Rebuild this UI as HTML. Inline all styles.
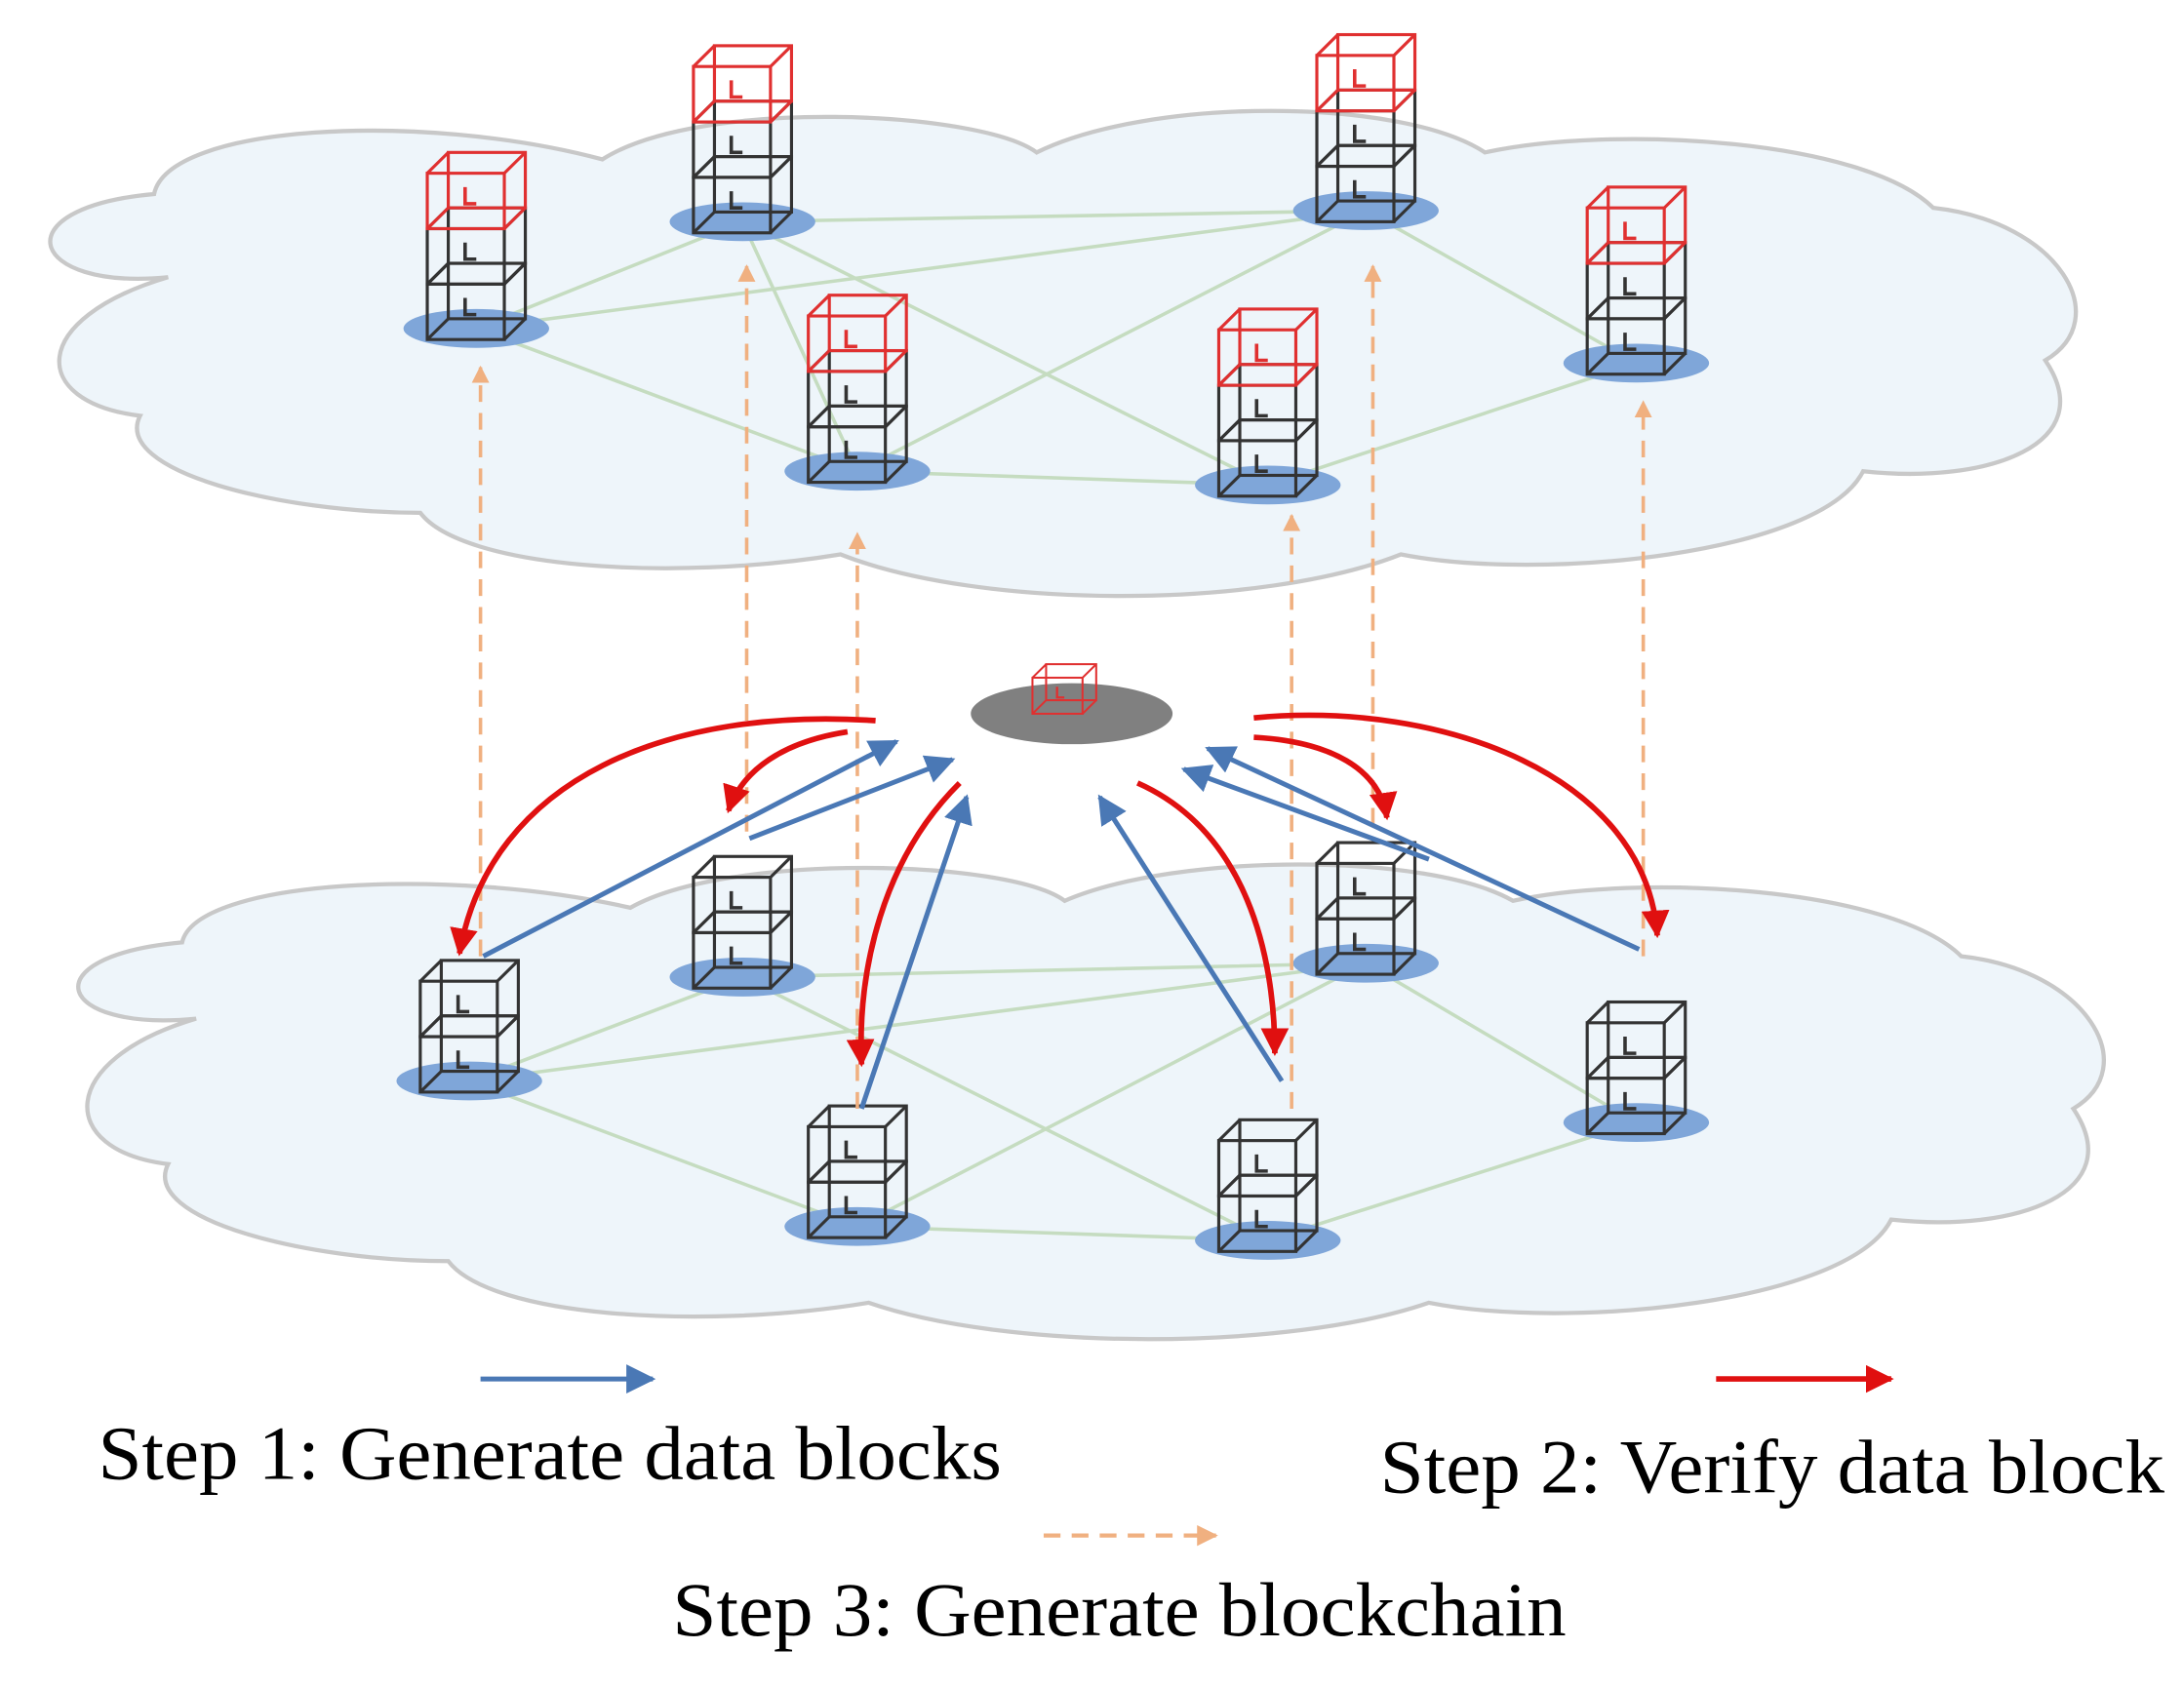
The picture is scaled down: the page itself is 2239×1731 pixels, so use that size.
<!DOCTYPE html>
<html><head><meta charset="utf-8"><style>html,body{margin:0;padding:0;background:#fff}svg{display:block}</style></head>
<body>
<svg width="2239" height="1731" viewBox="0 0 1559 1218" preserveAspectRatio="none" xmlns="http://www.w3.org/2000/svg">
<defs>
<g id="cb" fill="none" stroke="#333" stroke-width="2.2">
<rect x="0" y="-40" width="55" height="40"/><rect x="15" y="-55" width="55" height="40"/>
<path d="M0,-40L15,-55M55,-40L70,-55M55,0L70,-15M0,0L15,-15"/>
<path d="M27,-30v12h8" stroke-width="2.5"/></g>
<g id="cr" fill="none" stroke="#e03030" stroke-width="2.2">
<rect x="0" y="-40" width="55" height="40"/><rect x="15" y="-55" width="55" height="40"/>
<path d="M0,-40L15,-55M55,-40L70,-55M55,0L70,-15M0,0L15,-15"/>
<path d="M27,-30v12h8" stroke-width="2.5"/></g>
<g id="top"><ellipse cx="35" cy="-8" rx="52" ry="14" fill="#7fa6d9"/><use href="#cb"/><use href="#cb" y="-40"/><use href="#cr" y="-80"/></g>
<g id="bot"><ellipse cx="35" cy="-8" rx="52" ry="14" fill="#7fa6d9"/><use href="#cb"/><use href="#cb" y="-40"/></g>
<marker id="ab" viewBox="0 0 10 10" refX="9" refY="5" markerWidth="6" markerHeight="6" orient="auto"><path d="M0,0L10,5L0,10z" fill="#4a78b5"/></marker>
<marker id="ar" viewBox="0 0 10 10" refX="9" refY="5" markerWidth="5" markerHeight="5" orient="auto"><path d="M0,0L10,5L0,10z" fill="#e01010"/></marker>
<marker id="ao" viewBox="0 0 10 10" refX="9" refY="5" markerWidth="5" markerHeight="5" orient="auto"><path d="M0,0L10,5L0,10z" fill="#f0b080"/></marker>
</defs>
<path d="M120,200 C20,210 0,150 110,140 C120,90 300,80 430,115 C500,70 700,80 740,110 C820,70 1000,70 1060,110 C1150,90 1330,100 1380,150 C1470,160 1510,230 1460,260 C1500,320 1420,350 1330,340 C1300,400 1100,420 1000,400 C900,440 700,440 600,400 C480,420 330,410 300,370 C200,370 80,340 100,300 C20,290 20,230 120,200Z" fill="#eef5fa" stroke="#c8c8c8" stroke-width="3"/>
<path d="M140,735 C40,745 20,690 130,680 C140,635 320,625 450,655 C520,615 720,620 760,650 C840,615 1020,615 1080,650 C1170,630 1350,640 1400,690 C1490,700 1530,770 1480,800 C1520,860 1440,890 1350,880 C1320,940 1120,960 1020,940 C920,975 720,975 620,940 C500,960 350,950 320,910 C220,910 100,880 120,840 C40,830 40,765 140,735Z" fill="#eef5fa" stroke="#c8c8c8" stroke-width="3"/>
<g stroke="#c5dcc0" stroke-width="2.5">
<path d="M340,237L530,160M340,237L975,152M340,237L612,340M530,160L975,152M530,160L905,350M612,340L975,152M612,340L905,350M905,350L1168,262M975,152L1168,262M612,340L530,160"/>
<path d="M335,780L530,705M335,780L975,695M335,780L612,885M530,705L975,695M530,705L905,895M612,885L975,695M612,885L905,895M905,895L1168,810M975,695L1168,810"/>
</g>
<use href="#top" x="305" y="245"/><use href="#top" x="495" y="168"/><use href="#top" x="577" y="348"/><use href="#top" x="870" y="358"/><use href="#top" x="940" y="160"/><use href="#top" x="1133" y="270"/>
<use href="#bot" x="300" y="788"/><use href="#bot" x="495" y="713"/><use href="#bot" x="577" y="893"/><use href="#bot" x="870" y="903"/><use href="#bot" x="940" y="703"/><use href="#bot" x="1133" y="818"/>
<g stroke="#f0b080" stroke-width="2.5" stroke-dasharray="12,8" marker-end="url(#ao)">
<path d="M343,690V265"/><path d="M533,600V192"/><path d="M612,800V385"/><path d="M922,800V372"/><path d="M980,595V192"/><path d="M1173,690V290"/></g>
<ellipse cx="765" cy="515" rx="72" ry="22" fill="#808080"/>
<g transform="translate(737,515) scale(0.65)"><use href="#cr"/></g>
<g stroke="#4a78b5" stroke-width="3.5" marker-end="url(#ab)">
<path d="M345,690L640,535"/><path d="M535,605L680,548"/><path d="M615,800L690,575"/><path d="M915,780L785,575"/><path d="M1020,620L845,555"/><path d="M1170,685L862,540"/></g>
<g stroke="#e01010" stroke-width="4" fill="none" marker-end="url(#ar)">
<path d="M625,520C480,510 350,560 328,688"/><path d="M605,528C560,535 530,555 520,585"/><path d="M685,565C630,620 612,700 615,768"/><path d="M812,565C890,600 910,690 910,760"/><path d="M895,532C950,535 985,555 990,590"/><path d="M895,518C1030,505 1175,560 1183,675"/></g>
<path d="M343,995H466" stroke="#4a78b5" stroke-width="3.5" marker-end="url(#ab)"/>
<path d="M1225,995H1350" stroke="#e01010" stroke-width="4" marker-end="url(#ar)"/>
<path d="M745,1108H868" stroke="#f0b080" stroke-width="3" stroke-dasharray="12,8" marker-end="url(#ao)"/>
<g font-family="Liberation Serif, serif" font-size="55" fill="#000">
<text x="70" y="1067" textLength="645" lengthAdjust="spacingAndGlyphs">Step 1: Generate data blocks</text>
<text x="985" y="1077" textLength="560" lengthAdjust="spacingAndGlyphs">Step 2: Verify data block</text>
<text x="480" y="1180" textLength="638" lengthAdjust="spacingAndGlyphs">Step 3: Generate blockchain</text></g>
</svg>
</body></html>
